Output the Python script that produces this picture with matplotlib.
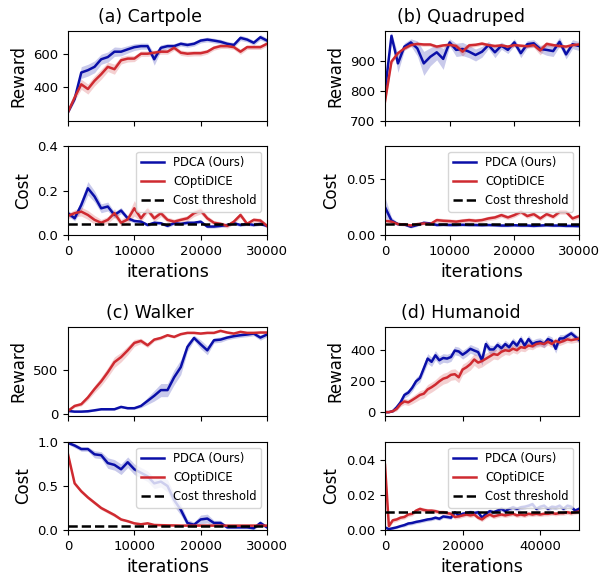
import matplotlib
matplotlib.use("Agg")
import matplotlib.pyplot as plt
import numpy as np

BLUE = "#0a0fa8"
RED = "#cf2a30"

# ---- (a) Cartpole, one point every 1000 iterations ----
cart_iters = np.arange(0, 30001, 1000)
cart_rew_pdca = [253, 331, 488, 502, 522, 567, 580, 612, 612, 626, 639, 645, 645, 567, 635, 645,
                 645, 659, 652, 659, 678, 684, 678, 671, 659, 652, 694, 684, 665, 698, 678]
cart_rew_pdca_std = [10, 15, 35, 35, 35, 30, 30, 28, 25, 22, 20, 18, 18, 35, 18, 15,
                     15, 14, 14, 14, 14, 14, 14, 14, 14, 14, 16, 14, 14, 16, 14]
cart_rew_copt = [253, 340, 418, 390, 439, 478, 522, 508, 561, 571, 571, 600, 600, 606, 612, 612,
                 635, 606, 600, 603, 603, 612, 635, 645, 645, 639, 612, 639, 639, 639, 659]
cart_rew_copt_std = [10, 18, 30, 30, 30, 30, 28, 30, 22, 20, 18, 16, 16, 15, 15, 15,
                     15, 16, 16, 16, 16, 14, 14, 14, 14, 14, 16, 14, 14, 14, 14]
cart_cost_pdca = [0.098, 0.075, 0.135, 0.21, 0.173, 0.12, 0.128, 0.09, 0.11, 0.075, 0.063, 0.06,
                  0.045, 0.055, 0.053, 0.041, 0.053, 0.05, 0.055, 0.055, 0.06, 0.038, 0.038, 0.041,
                  0.045, 0.053, 0.045, 0.05, 0.045, 0.05, 0.041]
cart_cost_pdca_std = [0.012, 0.012, 0.025, 0.03, 0.025, 0.02, 0.02, 0.014, 0.014, 0.01, 0.008,
                      0.008, 0.007, 0.007, 0.007, 0.007, 0.007, 0.007, 0.007, 0.007, 0.007, 0.007,
                      0.007, 0.007, 0.007, 0.007, 0.007, 0.007, 0.007, 0.007, 0.007]
cart_cost_copt = [0.086, 0.098, 0.105, 0.09, 0.068, 0.055, 0.068, 0.098, 0.055, 0.07, 0.12, 0.075,
                  0.113, 0.075, 0.098, 0.068, 0.06, 0.068, 0.075, 0.098, 0.11, 0.075, 0.055, 0.05,
                  0.041, 0.06, 0.09, 0.05, 0.068, 0.065, 0.041]
cart_cost_copt_std = [0.012, 0.015, 0.02, 0.02, 0.02, 0.015, 0.015, 0.02, 0.015, 0.02, 0.035,
                      0.015, 0.015, 0.015, 0.015, 0.012, 0.012, 0.012, 0.012, 0.015, 0.015, 0.012,
                      0.01, 0.01, 0.01, 0.01, 0.012, 0.01, 0.01, 0.01, 0.01]
cart_threshold = 0.05

# ---- (b) Quadruped ----
quad_iters = np.arange(0, 30001, 1000)
quad_rew_pdca = [800, 984, 892, 948, 962, 942, 892, 914, 929, 907, 962, 937, 940, 931, 920, 931,
                 953, 929, 951, 937, 962, 926, 956, 959, 940, 937, 933, 964, 922, 956, 950]
quad_rew_pdca_std = [15, 12, 30, 12, 12, 25, 40, 30, 25, 35, 12, 22, 22, 20, 20, 18,
                     12, 18, 12, 12, 12, 15, 12, 12, 12, 18, 18, 15, 15, 15, 15]
quad_rew_copt = [765, 898, 926, 942, 953, 957, 955, 955, 948, 952, 954, 950, 931, 952, 954, 958,
                 953, 950, 952, 948, 953, 951, 949, 953, 935, 957, 953, 950, 948, 953, 955]
quad_rew_copt_std = [10, 8, 6, 6, 6, 6, 6, 6, 6, 6, 6, 8, 15, 8, 6, 6,
                     6, 6, 6, 6, 6, 6, 6, 8, 15, 8, 6, 6, 6, 6, 6]
quad_cost_pdca = [0.025, 0.013, 0.0098, 0.0095, 0.0074, 0.009, 0.011, 0.0104, 0.009, 0.0092,
                  0.009, 0.009, 0.0092, 0.009, 0.009, 0.0088, 0.009, 0.0088, 0.0085, 0.0085,
                  0.0088, 0.0085, 0.0085, 0.0082, 0.0085, 0.0088, 0.0085, 0.0085, 0.0082,
                  0.0082, 0.008]
quad_cost_pdca_std = [0.009, 0.003, 0.0012, 0.0012, 0.0012, 0.0012, 0.0012, 0.0012, 0.0012,
                      0.0012, 0.0012, 0.0012, 0.0012, 0.0012, 0.0012, 0.0012, 0.0012, 0.0012,
                      0.0012, 0.0012, 0.0012, 0.0012, 0.0012, 0.0012, 0.0012, 0.0012, 0.0012,
                      0.0012, 0.0012, 0.0012, 0.0012]
quad_cost_copt = [0.0128, 0.012, 0.0098, 0.0095, 0.0086, 0.0098, 0.0104, 0.0098, 0.0134, 0.0128,
                  0.0125, 0.012, 0.0128, 0.0134, 0.0128, 0.0134, 0.0149, 0.0158, 0.0179, 0.0158,
                  0.0179, 0.0208, 0.017, 0.0188, 0.0149, 0.0188, 0.0164, 0.0208, 0.0208, 0.0149,
                  0.017]
quad_cost_copt_std = [0.0012, 0.0012, 0.0012, 0.0012, 0.0012, 0.0012, 0.0012, 0.0012, 0.002,
                      0.002, 0.002, 0.002, 0.002, 0.002, 0.002, 0.002, 0.002, 0.002, 0.002,
                      0.002, 0.002, 0.002, 0.002, 0.002, 0.002, 0.002, 0.002, 0.002, 0.002,
                      0.002, 0.002]
quad_threshold = 0.01

# ---- (c) Walker ----
walk_iters = np.arange(0, 30001, 1000)
walk_rew_pdca = [31, 23, 23, 27, 38, 50, 50, 50, 77, 62, 62, 88, 146, 204, 269, 269,
                 415, 531, 762, 865, 792, 723, 838, 846, 869, 885, 896, 904, 915, 869, 904]
walk_rew_pdca_std = [10, 10, 10, 10, 10, 10, 10, 10, 12, 12, 12, 20, 40, 60, 75, 75,
                     85, 85, 50, 30, 50, 50, 30, 30, 25, 25, 25, 25, 25, 30, 25]
walk_rew_copt = [31, 88, 108, 185, 281, 369, 473, 588, 646, 723, 808, 831, 781, 846, 865, 896,
                 877, 908, 923, 923, 915, 923, 923, 946, 927, 915, 935, 923, 923, 927, 927]
walk_rew_copt_std = [10, 18, 20, 30, 40, 50, 55, 60, 55, 50, 40, 30, 25, 20, 18, 15,
                     15, 12, 12, 12, 12, 12, 12, 12, 12, 12, 12, 12, 12, 12, 12]
walk_cost_pdca = [0.99, 0.96, 0.92, 0.92, 0.86, 0.85, 0.76, 0.74, 0.69, 0.77, 0.69, 0.65, 0.61,
                  0.53, 0.55, 0.50, 0.34, 0.23, 0.08, 0.06, 0.12, 0.13, 0.08, 0.08, 0.03, 0.03,
                  0.03, 0.03, 0.02, 0.08, 0.03]
walk_cost_pdca_std = [0.015, 0.025, 0.025, 0.025, 0.04, 0.04, 0.06, 0.06, 0.06, 0.06, 0.06, 0.06,
                      0.06, 0.06, 0.06, 0.07, 0.07, 0.06, 0.04, 0.03, 0.05, 0.05, 0.03, 0.03,
                      0.015, 0.015, 0.015, 0.015, 0.015, 0.025, 0.015]
walk_cost_copt = [0.86, 0.53, 0.44, 0.37, 0.31, 0.25, 0.21, 0.17, 0.12, 0.10, 0.076, 0.065,
                  0.076, 0.057, 0.055, 0.053, 0.052, 0.05, 0.05, 0.05, 0.05, 0.05, 0.05, 0.05,
                  0.05, 0.05, 0.05, 0.05, 0.05, 0.05, 0.05]
walk_cost_copt_std = [0.012, 0.02, 0.02, 0.02, 0.02, 0.02, 0.02, 0.02, 0.015, 0.012, 0.012,
                      0.01, 0.01, 0.008, 0.007, 0.007, 0.007, 0.007, 0.007, 0.007, 0.007, 0.007,
                      0.007, 0.007, 0.007, 0.007, 0.007, 0.007, 0.007, 0.007, 0.007]
walk_threshold = 0.05

# ---- (d) Humanoid ----
hum_iters = np.arange(0, 50001, 1000)
hum_rew_pdca = [0, 0, 6, 31, 63, 111, 126, 157, 199, 220, 283, 346, 325, 367, 335, 350, 346,
                356, 398, 392, 371, 388, 409, 398, 388, 335, 440, 405, 405, 434, 413, 440, 419,
                455, 430, 472, 430, 472, 440, 451, 455, 440, 472, 461, 409, 476, 476, 493, 509,
                488, 467]
hum_rew_pdca_std = [4, 4, 6, 14, 20, 20, 20, 22, 25, 25, 28, 32, 30, 30, 28, 28, 28,
                    28, 28, 28, 28, 28, 28, 28, 28, 32, 28, 28, 25, 25, 25, 25, 25,
                    25, 25, 25, 25, 25, 25, 25, 25, 25, 25, 25, 28, 25, 25, 20, 20,
                    20, 20]
hum_rew_copt = [0, 0, 6, 21, 52, 69, 63, 78, 94, 111, 119, 147, 161, 178, 199, 216, 224,
                241, 245, 225, 275, 290, 310, 340, 320, 330, 345, 360, 375, 370, 390, 400, 395,
                410, 400, 420, 415, 430, 425, 440, 445, 440, 455, 440, 460, 450, 460, 470, 465,
                470, 475]
hum_rew_copt_std = [4, 4, 6, 14, 16, 20, 20, 24, 26, 28, 28, 32, 32, 32, 35, 35, 35,
                    35, 35, 35, 35, 35, 38, 38, 38, 38, 35, 35, 32, 32, 32, 28, 28,
                    25, 25, 25, 25, 22, 22, 22, 22, 22, 22, 22, 20, 20, 20, 20, 20,
                    20, 20]
hum_cost_pdca = [0.0015, 0.0005, 0.001, 0.0015, 0.0022, 0.0028, 0.0037, 0.004, 0.0046, 0.005,
                 0.0055, 0.006, 0.0063, 0.007, 0.0064, 0.0077, 0.0074, 0.007, 0.0101, 0.0083,
                 0.0092, 0.0096, 0.0101, 0.0096, 0.0101, 0.007, 0.0092, 0.0107, 0.0101, 0.011,
                 0.012, 0.0107, 0.012, 0.0129, 0.012, 0.0129, 0.0132, 0.0138, 0.0147, 0.012,
                 0.0132, 0.0138, 0.012, 0.0132, 0.0129, 0.0138, 0.012, 0.0138, 0.0132, 0.011,
                 0.012]
hum_cost_pdca_std = [0.0006] * 5 + [0.001] * 15 + [0.0013] * 31
hum_cost_copt = [0.037, 0.0022, 0.0055, 0.006, 0.007, 0.0074, 0.0088, 0.0092, 0.011, 0.012,
                 0.0114, 0.011, 0.011, 0.0107, 0.0101, 0.0101, 0.0096, 0.0092, 0.0074, 0.0077,
                 0.0083, 0.0088, 0.0083, 0.0088, 0.007, 0.006, 0.0077, 0.0088, 0.0077, 0.0083,
                 0.0088, 0.0083, 0.0088, 0.0092, 0.0083, 0.0088, 0.0083, 0.0092, 0.0088,
                 0.0092, 0.0088, 0.0092, 0.0092, 0.0096, 0.0092, 0.0096, 0.0096, 0.0101,
                 0.0096, 0.0101, 0.0105]
hum_cost_copt_std = [0.002] + [0.0012] * 50
hum_threshold = 0.01

envs = [
    dict(title="(a) Cartpole", x=cart_iters,
         rew=(cart_rew_pdca, cart_rew_pdca_std, cart_rew_copt, cart_rew_copt_std),
         cost=(cart_cost_pdca, cart_cost_pdca_std, cart_cost_copt, cart_cost_copt_std),
         thr=cart_threshold, rew_lim=(200, 735), rew_ticks=[400, 600],
         cost_lim=(0, 0.4), cost_ticks=[0.0, 0.2, 0.4], cost_fmt="{:.1f}",
         xticks=[0, 10000, 20000, 30000]),
    dict(title="(b) Quadruped", x=quad_iters,
         rew=(quad_rew_pdca, quad_rew_pdca_std, quad_rew_copt, quad_rew_copt_std),
         cost=(quad_cost_pdca, quad_cost_pdca_std, quad_cost_copt, quad_cost_copt_std),
         thr=quad_threshold, rew_lim=(700, 1000), rew_ticks=[700, 800, 900],
         cost_lim=(0, 0.08), cost_ticks=[0.0, 0.05], cost_fmt="{:.2f}",
         xticks=[0, 10000, 20000, 30000]),
    dict(title="(c) Walker", x=walk_iters,
         rew=(walk_rew_pdca, walk_rew_pdca_std, walk_rew_copt, walk_rew_copt_std),
         cost=(walk_cost_pdca, walk_cost_pdca_std, walk_cost_copt, walk_cost_copt_std),
         thr=walk_threshold, rew_lim=(-27, 990), rew_ticks=[0, 500],
         cost_lim=(0, 1.0), cost_ticks=[0.0, 0.5, 1.0], cost_fmt="{:.1f}",
         xticks=[0, 10000, 20000, 30000]),
    dict(title="(d) Humanoid", x=hum_iters,
         rew=(hum_rew_pdca, hum_rew_pdca_std, hum_rew_copt, hum_rew_copt_std),
         cost=(hum_cost_pdca, hum_cost_pdca_std, hum_cost_copt, hum_cost_copt_std),
         thr=hum_threshold, rew_lim=(-25, 550), rew_ticks=[0, 200, 400],
         cost_lim=(0, 0.05), cost_ticks=[0.0, 0.02, 0.04], cost_fmt="{:.2f}",
         xticks=[0, 20000, 40000]),
]

W, H = 603, 577
# pixel boxes (left, right) per column and (top, bottom) per row
cols = [(68, 267), (385, 579)]
rows = [((31, 121), (146, 235)), ((327, 416), (442, 530))]
title_x = [150, 461]
title_y = [17, 313]
LW = 1.8


def box(lr, tb):
    l, r = lr
    t, b = tb
    return [l / W, 1 - b / H, (r - l) / W, (b - t) / H]


def band(ax, x, m, s, color, label=None):
    m = np.asarray(m)
    s = np.asarray(s)
    ax.fill_between(x, m - s, m + s, color=color, alpha=0.22, linewidth=0)
    ax.plot(x, m, color=color, linewidth=LW, label=label)


fig = plt.figure(figsize=(W / 100, H / 100), dpi=100)

for i, env in enumerate(envs):
    r, c = divmod(i, 2)
    ax_r = fig.add_axes(box(cols[c], rows[r][0]))
    ax_c = fig.add_axes(box(cols[c], rows[r][1]), sharex=ax_r)
    x = env["x"]

    m1, s1, m2, s2 = env["rew"]
    band(ax_r, x, m1, s1, BLUE)
    band(ax_r, x, m2, s2, RED)
    ax_r.set_ylim(*env["rew_lim"])
    ax_r.set_yticks(env["rew_ticks"])
    ax_r.set_ylabel("Reward", fontsize=12)
    ax_r.tick_params(labelbottom=False, labelsize=9.5)

    m1, s1, m2, s2 = env["cost"]
    band(ax_c, x, m1, s1, BLUE, "PDCA (Ours)")
    band(ax_c, x, m2, s2, RED, "COptiDICE")
    ax_c.axhline(env["thr"], color="black", linestyle="--", linewidth=LW, label="Cost threshold")
    ax_c.set_ylim(*env["cost_lim"])
    ax_c.set_yticks(env["cost_ticks"])
    ax_c.set_yticklabels([env["cost_fmt"].format(t) for t in env["cost_ticks"]])
    ax_c.set_xlim(x[0], x[-1])
    ax_c.set_xticks(env["xticks"])
    ax_c.set_ylabel("Cost", fontsize=12)
    ax_c.set_xlabel("iterations", fontsize=12.5)
    ax_c.tick_params(labelsize=9.5)
    ax_c.legend(loc="upper right", fontsize=8.3)

    fig.text(title_x[c] / W, 1 - title_y[r] / H, env["title"], fontsize=12.5,
             ha="center", va="center")

fig.savefig("out.png", dpi=100)
